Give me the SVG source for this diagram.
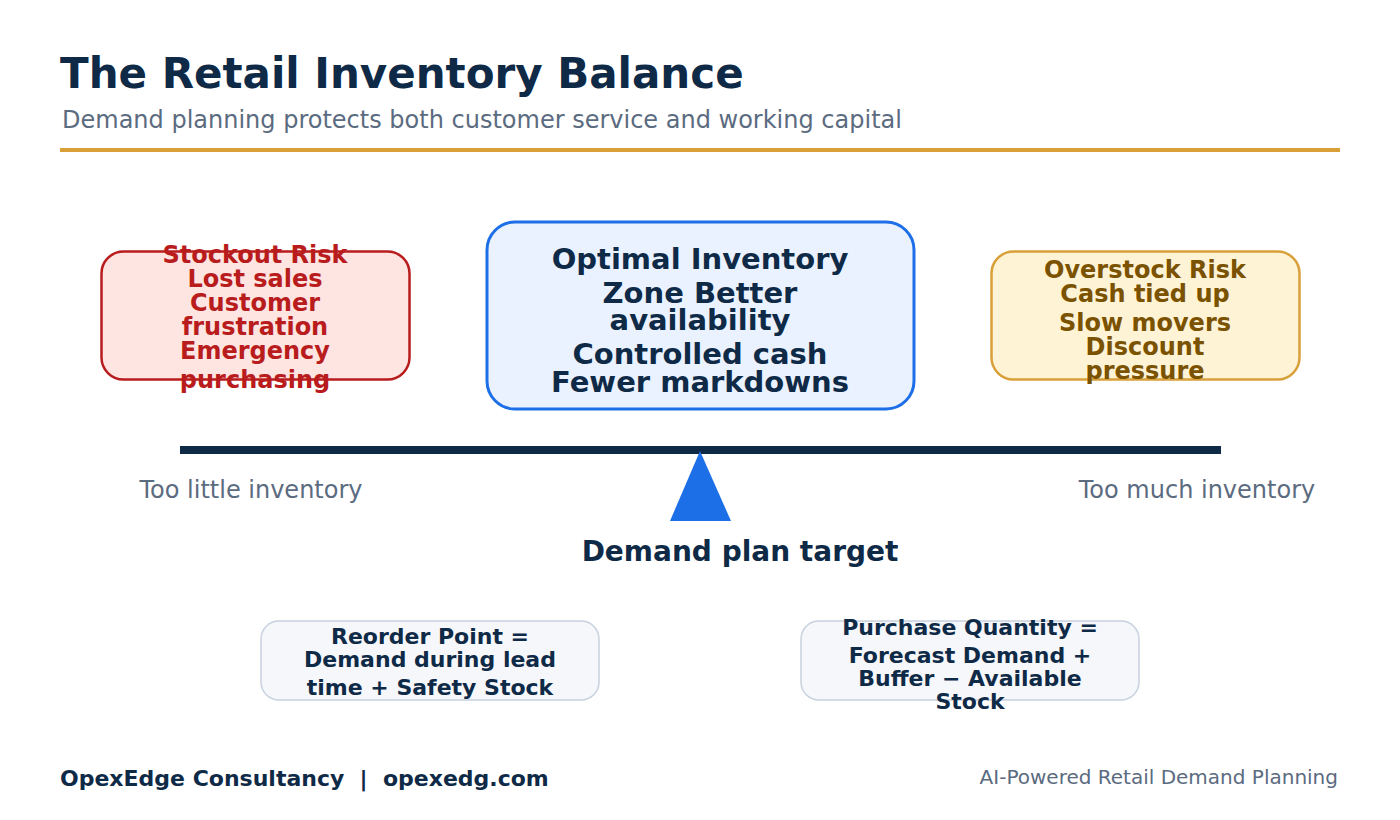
<svg xmlns="http://www.w3.org/2000/svg" width="1400" height="820" viewBox="0 0 1400 820">
<style>
text{font-family:"DejaVu Sans","Liberation Sans",sans-serif}
.b{font-weight:bold}
.red{fill:#b91c1c;font-size:24px;font-weight:bold}
.gold{fill:#7a5200;font-size:24px;font-weight:bold}
.navy{fill:#0f2a47}
.mid{fill:#0f2a47;font-size:29px;font-weight:bold}
.form{fill:#0f2a47;font-size:22px;font-weight:bold}
.gray{fill:#5b6b80}
</style>
<rect width="1400" height="820" fill="#ffffff"/>
<g id="header">
<text x="60" y="88" class="b navy" font-size="42">The Retail Inventory Balance</text>
<text x="62" y="128" class="gray" font-size="24">Demand planning protects both customer service and working capital</text>
<rect x="60" y="148" width="1280" height="4" fill="#d9a03a"/>
</g>
<g id="stockout">
<rect x="101.5" y="251.5" width="308" height="128" rx="22" fill="#fee5e2" stroke="#b91c1c" stroke-width="2.5"/>
<text text-anchor="middle" class="red"><tspan x="255" y="263">Stockout Risk</tspan><tspan x="255" y="287">Lost sales</tspan><tspan x="255" y="311">Customer</tspan><tspan x="255" y="335">frustration</tspan><tspan x="255" y="359">Emergency</tspan><tspan x="255" y="388">purchasing</tspan></text>
</g>
<g id="optimal">
<rect x="487" y="222" width="427" height="187" rx="28" fill="#eaf2ff" stroke="#1d6fe8" stroke-width="3"/>
<text text-anchor="middle" class="mid"><tspan x="700" y="269">Optimal Inventory</tspan><tspan x="700" y="303">Zone Better</tspan><tspan x="700" y="330">availability</tspan><tspan x="700" y="364">Controlled cash</tspan><tspan x="700" y="392">Fewer markdowns</tspan></text>
</g>
<g id="overstock">
<rect x="991.5" y="251.5" width="308" height="128" rx="22" fill="#fff3d6" stroke="#d9a03a" stroke-width="2.5"/>
<text text-anchor="middle" class="gold"><tspan x="1145" y="278">Overstock Risk</tspan><tspan x="1145" y="302">Cash tied up</tspan><tspan x="1145" y="331">Slow movers</tspan><tspan x="1145" y="355">Discount</tspan><tspan x="1145" y="379">pressure</tspan></text>
</g>
<g id="balance">
<rect x="180" y="446" width="1041" height="8" fill="#0f2a47"/>
<polygon points="700,451 731,521 670,521" fill="#1d6fe8"/>
<text x="251" y="498" text-anchor="middle" class="gray" font-size="24">Too little inventory</text>
<text x="1197" y="498" text-anchor="middle" class="gray" font-size="24">Too much inventory</text>
<text x="740" y="561" text-anchor="middle" class="b navy" font-size="28">Demand plan target</text>
</g>
<g id="reorder">
<rect x="261" y="621" width="338" height="79" rx="18" fill="#f5f7fa" stroke="#c8d1de" stroke-width="1.5"/>
<text text-anchor="middle" class="form"><tspan x="430" y="644">Reorder Point =</tspan><tspan x="430" y="667">Demand during lead</tspan><tspan x="430" y="695">time + Safety Stock</tspan></text>
</g>
<g id="purchase">
<rect x="801" y="621" width="338" height="79" rx="18" fill="#f5f7fa" stroke="#c8d1de" stroke-width="1.5"/>
<text text-anchor="middle" class="form"><tspan x="970" y="635">Purchase Quantity =</tspan><tspan x="970" y="663">Forecast Demand +</tspan><tspan x="970" y="686">Buffer − Available</tspan><tspan x="970" y="709">Stock</tspan></text>
</g>
<g id="connectors"></g>
<g id="footer">
<text x="60" y="786" class="b navy" font-size="22" xml:space="preserve" style="white-space:pre">OpexEdge Consultancy  |  opexedg.com</text>
<text x="1338" y="784" text-anchor="end" class="gray" font-size="20">AI-Powered Retail Demand Planning</text>
</g>
</svg>
